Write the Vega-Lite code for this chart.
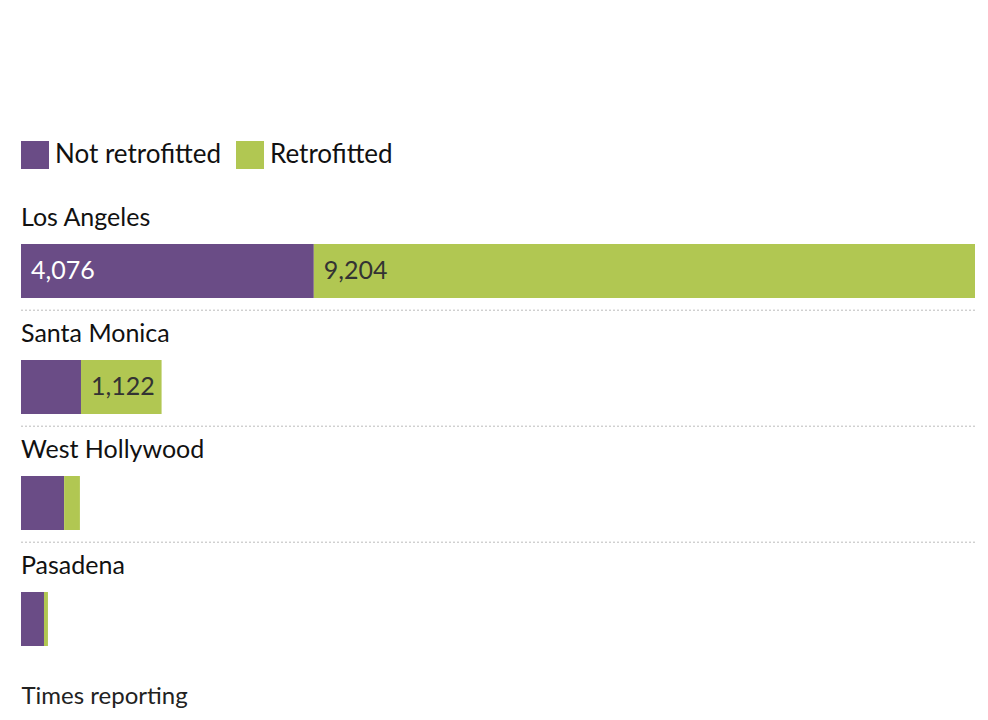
{
  "$schema": "https://vega.github.io/schema/vega-lite/v6.json",
  "autosize": "none",
  "width": 954,
  "height": 464,
  "padding": {"left": 21, "top": 200, "right": 13, "bottom": 56},
  "title": {
    "text": ["Los Angeles and Santa Monica lead the way in", "seismic retrofits"],
    "anchor": "start",
    "frame": "group",
    "font": "Roboto",
    "fontSize": 36,
    "fontWeight": "bold",
    "color": "#111",
    "lineHeight": 44,
    "offset": 100,
    "baseline": "bottom"
  },
  "config": {
    "font": "Lato",
    "view": {"stroke": null}
  },
  "data": {
    "values": [
      {"city": "Los Angeles", "status": "Not retrofitted", "count": 4076, "label": "4,076"},
      {"city": "Los Angeles", "status": "Retrofitted", "count": 9204, "label": "9,204"},
      {"city": "Santa Monica", "status": "Not retrofitted", "count": 835, "label": ""},
      {"city": "Santa Monica", "status": "Retrofitted", "count": 1122, "label": "1,122"},
      {"city": "West Hollywood", "status": "Not retrofitted", "count": 600, "label": ""},
      {"city": "West Hollywood", "status": "Retrofitted", "count": 220, "label": ""},
      {"city": "Pasadena", "status": "Not retrofitted", "count": 320, "label": ""},
      {"city": "Pasadena", "status": "Retrofitted", "count": 55, "label": ""}
    ]
  },
  "encoding": {
    "y": {"field": "city", "type": "nominal", "sort": null, "axis": null,
          "scale": {"paddingInner": 0, "paddingOuter": 0}}
  },
  "layer": [
    {
      "transform": [{"filter": "datum.city !== 'Pasadena' && datum.status === 'Retrofitted'"}],
      "mark": {"type": "rule", "strokeDash": [2, 2], "color": "#bbb", "strokeWidth": 1},
      "encoding": {"y": {"field": "city", "type": "nominal", "sort": null, "bandPosition": 0.95}}
    },
    {
      "mark": {"type": "bar", "size": 54, "yOffset": 13},
      "encoding": {
        "x": {"field": "count", "type": "quantitative", "stack": "zero",
              "scale": {"domain": [0, 13280], "nice": false},
              "axis": {"labels": false, "ticks": false, "domain": false, "grid": false,
                       "title": "Times reporting", "titleAnchor": "start", "titleAlign": "left",
                       "titleFontWeight": "normal", "titleFontSize": 24, "titleColor": "#222",
                       "titlePadding": 20, "titleFont": "Lato"}},
        "color": {"field": "status", "type": "nominal",
                  "scale": {"domain": ["Not retrofitted", "Retrofitted"], "range": ["#6a4c86", "#b1c752"]},
                  "legend": {"orient": "none", "legendX": 0, "legendY": -59, "direction": "horizontal",
                             "title": null, "symbolType": "square", "symbolSize": 784,
                             "symbolStrokeWidth": 0, "symbolOpacity": 1,
                             "labelFontSize": 26, "labelColor": "#111", "labelFont": "Lato",
                             "columnPadding": 14, "labelOffset": 6, "labelLimit": 300}},
        "order": {"field": "status"}
      }
    },
    {
      "transform": [
        {"stack": "count", "groupby": ["city"], "sort": [{"field": "status"}], "as": ["v0", "v1"]},
        {"filter": "datum.label !== ''"}
      ],
      "mark": {"type": "text", "align": "left", "baseline": "middle", "dx": 10, "yOffset": 13, "fontSize": 25},
      "encoding": {
        "x": {"field": "v0", "type": "quantitative"},
        "text": {"field": "label"},
        "color": {"field": "status", "type": "nominal",
                  "scale": {"domain": ["Not retrofitted", "Retrofitted"], "range": ["#ffffff", "#333333"]},
                  "legend": null}
      }
    },
    {
      "transform": [{"filter": "datum.status === 'Not retrofitted'"}],
      "mark": {"type": "text", "align": "left", "baseline": "middle", "yOffset": -40, "fontSize": 25, "color": "#111"},
      "encoding": {
        "x": {"datum": 0, "type": "quantitative"},
        "text": {"field": "city"}
      }
    }
  ],
  "resolve": {"scale": {"color": "independent"}}
}
